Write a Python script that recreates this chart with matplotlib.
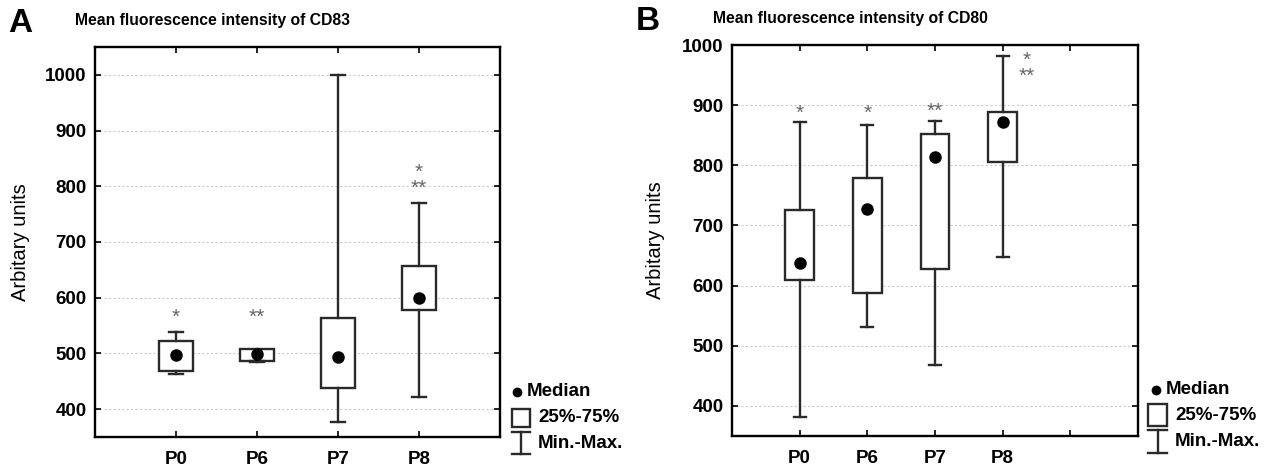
import numpy as np
import matplotlib.pyplot as plt
from matplotlib.patches import Rectangle
from matplotlib.lines import Line2D

plt.rcParams['font.family'] = ['Liberation Sans', 'DejaVu Sans']

groups = ["P0", "P6", "P7", "P8"]

# panel A: CD83
cd83_min = [463, 484, 377, 422]
cd83_q1 = [468, 487, 438, 578]
cd83_med = [497, 499, 493, 599]
cd83_q3 = [522, 508, 563, 657]
cd83_max = [538, 487, 1000, 770]
cd83_stars = ["*", "**", "", "*\n**"]
cd83_star_y = [572, 572, 572, 818]

# panel B: CD80
cd80_min = [381, 532, 468, 648]
cd80_q1 = [610, 587, 627, 806]
cd80_med = [638, 728, 814, 872]
cd80_q3 = [725, 779, 852, 889]
cd80_max = [872, 867, 874, 981]
cd80_stars = ["*", "*", "**", "*\n**"]
cd80_star_y = [894, 894, 897, 968]

W, H = 1276, 466
fig = plt.figure(figsize=(W / 100, H / 100), dpi=100)


def fx(px):
    return px / W


def fy(py):
    return 1 - py / H


def draw_panel(rect, mins, q1s, meds, q3s, maxs, stars, star_y, ylim, yticks,
               xmax, star_dx, ylab_x):
    ax = fig.add_axes(rect)
    pos = np.arange(1, len(groups) + 1)
    stats = []
    for i in range(len(groups)):
        stats.append(dict(med=meds[i], q1=q1s[i], q3=q3s[i],
                          whislo=mins[i], whishi=maxs[i]))
    ec = "#2a2a2a"
    ax.bxp(stats, positions=pos, widths=0.42, capwidths=0.18,
           showfliers=False, patch_artist=True,
           boxprops=dict(facecolor="white", edgecolor=ec, linewidth=1.7),
           whiskerprops=dict(color=ec, linewidth=1.7),
           capprops=dict(color=ec, linewidth=1.7),
           medianprops=dict(visible=False))
    ax.plot(pos, meds, "o", color="k", ms=8, zorder=5)
    for i in range(len(groups)):
        s = stars[i]
        if not s:
            continue
        dx = star_dx if "\n" in s else 0
        ax.annotate(s, (pos[i] + dx, star_y[i]), xytext=(0, -3),
                    textcoords="offset points", ha="center", va="center",
                    multialignment="center", linespacing=0.78,
                    fontsize=15, color="#666666")
    ax.set_xlim(0, xmax)
    ax.set_ylim(*ylim)
    ax.set_yticks(yticks)
    ax.set_xticks(list(pos) + [5])
    ax.set_xticklabels(groups + [""])
    ax.grid(axis="y", linestyle=(0, (2, 2)), color="#cccccc", linewidth=0.8)
    ax.set_axisbelow(True)
    ax.tick_params(direction="in", length=4, width=1.2, top=True, right=True,
                   labelsize=13.5)
    ax.tick_params(axis="y", pad=6)
    ax.tick_params(axis="x", pad=10)
    for lab in ax.get_xticklabels() + ax.get_yticklabels():
        lab.set_fontweight("bold")
    for sp in ax.spines.values():
        sp.set_linewidth(1.7)
    ax.set_ylabel("Arbitary units", fontsize=14.5)
    ax.yaxis.set_label_coords(ylab_x, 0.5)
    return ax


axA = draw_panel([fx(95), fy(437), fx(500) - fx(95), fy(47) - fy(437)],
                 cd83_min, cd83_q1, cd83_med, cd83_q3, cd83_max,
                 cd83_stars, cd83_star_y, (350, 1050),
                 [400, 500, 600, 700, 800, 900, 1000], 5, 0, -0.16)
axB = draw_panel([fx(732), fy(436), fx(1138) - fx(732), fy(45) - fy(436)],
                 cd80_min, cd80_q1, cd80_med, cd80_q3, cd80_max,
                 cd80_stars, cd80_star_y, (350, 1000),
                 [400, 500, 600, 700, 800, 900, 1000], 6, 0.36, -0.165)

fig.text(fx(8), fy(23), "A", fontsize=24, fontweight="bold", va="center")
fig.text(fx(636), fy(22), "B", fontsize=24, fontweight="bold", va="center")
fig.text(fx(75), fy(20), "Mean fluorescence intensity of CD83",
         fontsize=11.3, fontweight="bold", va="center")
fig.text(fx(713), fy(18), "Mean fluorescence intensity of CD80",
         fontsize=11.3, fontweight="bold", va="center")


def draw_key(x0, x1, yb0, yb1, yc0, yc1, dx, dy, tx):
    ec = "#2a2a2a"
    fig.add_artist(Line2D([fx(dx)], [fy(dy)], marker="o", color="k", ms=6))
    fig.text(fx(dx + 10), fy(dy), "Median", fontsize=13.5,
             fontweight="bold", va="center")
    fig.add_artist(Rectangle((fx(x0), fy(yb1)), fx(x1) - fx(x0),
                             fy(yb0) - fy(yb1), facecolor="white",
                             edgecolor=ec, linewidth=1.7,
                             transform=fig.transFigure))
    fig.text(fx(tx), fy((yb0 + yb1) / 2), "25%-75%", fontsize=13.5,
             fontweight="bold", va="center")
    xm = (x0 + x1) / 2
    fig.add_artist(Line2D([fx(x0), fx(x1)], [fy(yc0), fy(yc0)], color=ec, lw=1.7))
    fig.add_artist(Line2D([fx(x0), fx(x1)], [fy(yc1), fy(yc1)], color=ec, lw=1.7))
    fig.add_artist(Line2D([fx(xm), fx(xm)], [fy(yc0), fy(yc1)], color=ec, lw=1.7))
    fig.text(fx(tx), fy((yc0 + yc1) / 2), "Min.-Max.", fontsize=13.5,
             fontweight="bold", va="center")


draw_key(512, 530, 409, 427, 432, 454, 517, 392, 538)
draw_key(1148, 1167, 404, 426, 430, 453, 1156, 390, 1175)

fig.savefig("out.png", dpi=100)
